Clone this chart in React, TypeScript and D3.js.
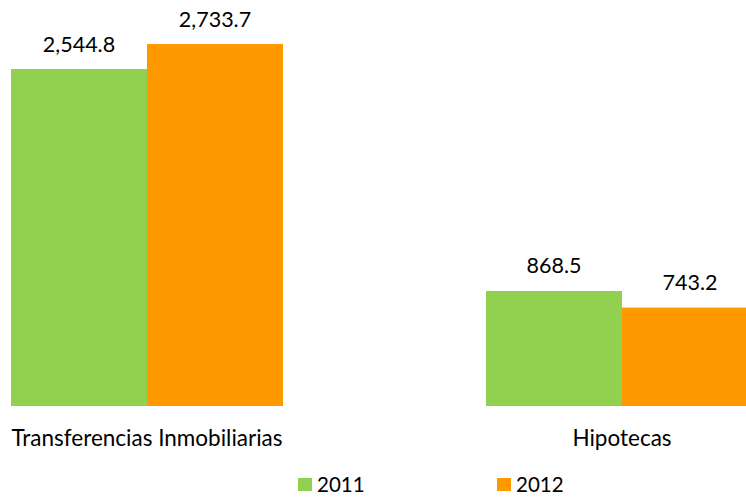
import React from "react";
import * as d3 from "d3";

const categories = ["Transferencias Inmobiliarias", "Hipotecas"];
const seriesNames = ["2011", "2012"];
const values2011 = [2544.8, 868.5];
const values2012 = [2733.7, 743.2];
const colors = ["#92d050", "#ff9900"];

export default function App() {
  const W = 746, H = 497;
  const baseY = 406;
  const x = d3.scaleBand<string>().domain(categories).range([11, 758]).paddingInner(203 / 475).paddingOuter(0);
  const xs = d3.scaleBand<string>().domain(seriesNames).range([0, x.bandwidth()]).padding(0);
  const y = d3.scaleLinear().domain([0, 2733.7]).range([baseY, 44]);
  const series = [values2011, values2012];
  const fmt = d3.format(",.1f");
  const font = "Lato, Calibri, sans-serif";
  return (
    <svg width={W} height={H} style={{ position: "absolute", left: 0, top: 0, background: "#fff" }}>
      {categories.map((c, i) => (
        <g key={c} transform={`translate(${x(c)},0)`}>
          {seriesNames.map((s, j) => {
            const v = series[j][i];
            const bx = xs(s)!;
            return (
              <g key={s}>
                <rect x={bx} y={y(v)} width={xs.bandwidth()} height={baseY - y(v)} fill={colors[j]} />
                <text x={bx + xs.bandwidth() / 2} y={y(v) - 17.5} textAnchor="middle" fontFamily={font} fontSize={21.5} fill="#000">
                  {fmt(v)}
                </text>
              </g>
            );
          })}
          <text x={x.bandwidth() / 2} y={446} textAnchor="middle" fontFamily={font} fontSize={22.5} fill="#000">
            {c}
          </text>
        </g>
      ))}
      {seriesNames.map((s, j) => (
        <g key={s} transform={`translate(${298 + j * 199},0)`}>
          <rect x={0} y={478} width={14} height={13} fill={colors[j]} />
          <text x={19} y={491.5} fontFamily={font} fontSize={20.5} fill="#000">{s}</text>
        </g>
      ))}
    </svg>
  );
}
